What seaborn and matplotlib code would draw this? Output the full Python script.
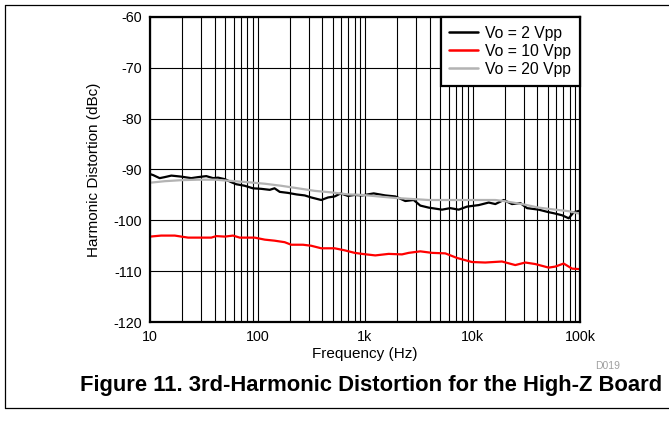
import numpy as np
import pandas as pd
import matplotlib
matplotlib.use("Agg")
import matplotlib.pyplot as plt
import matplotlib.ticker as mticker
from matplotlib.lines import Line2D
import seaborn as sns

# ---------------- data ----------------
freq_2vpp = [10, 10.7, 12.3, 13.7, 15.8, 19.5, 24.2, 28.0, 33.4, 38.6, 42.9, 49.6,
             57.1, 63.5, 76.0, 90.8, 108, 130, 144, 161, 192, 230, 275, 316, 392,
             453, 522, 594, 695, 802, 938, 1205, 1545, 1914, 2371, 2838, 3268,
             3915, 5204, 6215, 7442, 8892, 11430, 14160, 16310, 19500, 23290,
             27850, 32150, 41300, 51170, 56900, 68030, 78540, 87360, 100000]
hd_2vpp = [-90.9, -91.1, -91.7, -91.5, -91.2, -91.4, -91.7, -91.5, -91.3, -91.7,
           -91.6, -91.9, -92.5, -92.9, -93.2, -93.7, -93.8, -94.0, -93.7, -94.4,
           -94.6, -94.9, -95.1, -95.5, -96.0, -95.5, -95.3, -94.7, -95.2, -95.0,
           -95.1, -94.7, -95.1, -95.3, -96.2, -96.0, -97.1, -97.5, -97.9, -97.6,
           -97.9, -97.3, -97.0, -96.5, -96.8, -96.0, -96.8, -96.6, -97.6, -97.9,
           -98.4, -98.6, -99.0, -99.6, -98.4, -98.1]

freq_10vpp = [10, 12.7, 17.0, 22.6, 30.0, 37.2, 41.4, 49.6, 59.2, 68.3, 81.7, 94.2,
              117, 144, 179, 206, 265, 316, 392, 522, 647, 802, 938, 1247, 1660,
              2208, 2550, 3268, 4200, 5585, 7178, 9886, 13150, 18790, 25000, 30970,
              38380, 51170, 58900, 70470, 84330, 100000]
hd_10vpp = [-103.2, -103.0, -103.0, -103.4, -103.4, -103.4, -103.1, -103.2, -103.0,
            -103.4, -103.4, -103.4, -103.8, -104.0, -104.3, -104.8, -104.8, -105.0,
            -105.5, -105.5, -105.9, -106.4, -106.6, -106.9, -106.6, -106.7, -106.4,
            -106.1, -106.4, -106.5, -107.4, -108.2, -108.3, -108.1, -108.8, -108.3,
            -108.6, -109.3, -109.1, -108.5, -109.5, -109.6]

freq_20vpp = [10, 13.7, 19.5, 28.0, 40.0, 53.2, 81.7, 117, 166, 238, 340, 486, 695,
              938, 1914, 3915, 7980, 16310, 19500, 28840, 41300, 58900, 78540, 100000]
hd_20vpp = [-92.6, -92.3, -92.1, -92.0, -92.0, -92.2, -92.5, -92.8, -93.2, -93.7,
            -94.2, -94.5, -94.9, -95.0, -95.6, -96.0, -96.0, -96.0, -96.2, -96.8,
            -97.5, -97.9, -98.2, -98.7]

series_labels = ["Vo = 2 Vpp", "Vo = 10 Vpp", "Vo = 20 Vpp"]
series_colors = ["#000000", "#ff0000", "#b3b3b3"]

x_ticks = [10, 100, 1000, 10000, 100000]
x_tick_labels = ["10", "100", "1k", "10k", "100k"]
y_ticks = [-120, -110, -100, -90, -80, -70, -60]
y_tick_labels = ["-120", "-110", "-100", "-90", "-80", "-70", "-60"]

x_label = "Frequency (Hz)"
y_label = "Harmonic Distortion (dBc)"
fig_title = "Figure 11. 3rd-Harmonic Distortion for the High-Z Board"
fig_code = "D019"

# ---------------- long-format table ----------------
df = pd.concat([
    pd.DataFrame({"freq": freq_2vpp, "hd": hd_2vpp, "series": series_labels[0]}),
    pd.DataFrame({"freq": freq_10vpp, "hd": hd_10vpp, "series": series_labels[1]}),
    pd.DataFrame({"freq": freq_20vpp, "hd": hd_20vpp, "series": series_labels[2]}),
], ignore_index=True)

# ---------------- style ----------------
sns.set_style("white")
plt.rcParams["font.family"] = ["Liberation Sans", "DejaVu Sans"]
plt.rcParams["axes.unicode_minus"] = False
plt.rcParams["text.color"] = "black"
plt.rcParams["axes.labelcolor"] = "black"
plt.rcParams["xtick.color"] = "black"
plt.rcParams["ytick.color"] = "black"

W, H = 669, 423
fig = plt.figure(figsize=(W / 100, H / 100), dpi=100)
ax = fig.add_axes([150 / W, 1 - 322 / H, 430 / W, 305 / H])

sns.lineplot(data=df, x="freq", y="hd", hue="series", hue_order=series_labels,
             palette=dict(zip(series_labels, series_colors)), linewidth=1.6,
             sort=True, estimator=None, ax=ax, legend=False)

ax.set_xscale("log")
ax.set_xlim(10, 100000)
ax.set_ylim(-120, -60)
ax.xaxis.set_major_locator(mticker.FixedLocator(x_ticks))
ax.xaxis.set_major_formatter(mticker.FixedFormatter(x_tick_labels))
ax.xaxis.set_minor_locator(mticker.LogLocator(base=10, subs=np.arange(2, 10), numticks=20))
ax.xaxis.set_minor_formatter(mticker.NullFormatter())
ax.yaxis.set_major_locator(mticker.FixedLocator(y_ticks))
ax.yaxis.set_major_formatter(mticker.FixedFormatter(y_tick_labels))

ax.set_axisbelow(True)
ax.grid(which="major", axis="both", color="black", linewidth=0.8)
ax.grid(which="minor", axis="x", color="black", linewidth=0.8)
ax.tick_params(axis="both", which="both", length=0, labelsize=10.3,
               colors="black", labelcolor="black", pad=6)

for sp in ax.spines.values():
    sp.set_visible(True)
    sp.set_color("black")
    sp.set_linewidth(1.6)

ax.set_xlabel(x_label, fontsize=11, labelpad=2, color="black")
ax.set_ylabel(y_label, fontsize=11, labelpad=9, color="black")

handles = [Line2D([0], [0], color=c, linewidth=1.8) for c in series_colors]
leg = ax.legend(handles, series_labels, loc="upper right", borderaxespad=0,
                fontsize=11.3, frameon=True, fancybox=False, framealpha=1,
                edgecolor="black", handlelength=1.8, handletextpad=0.5,
                labelspacing=0.2, borderpad=0.55, labelcolor="black")
leg.get_frame().set_linewidth(1.6)

fig.text(608 / W, 1 - 366 / H, fig_code, fontsize=7.5, color="#a0a0a0",
         ha="center", va="center")
fig.text(371 / W, 1 - 385 / H, fig_title, fontsize=15.8, fontweight="bold",
         color="black", ha="center", va="center")

# frame lines around the figure block
fig.add_artist(Line2D([5 / W, 1], [1 - 5 / H, 1 - 5 / H], color="black", linewidth=0.9))
fig.add_artist(Line2D([5 / W, 5 / W], [1 - 5 / H, 1 - 408 / H], color="black", linewidth=0.9))
fig.add_artist(Line2D([5 / W, 1], [1 - 408 / H, 1 - 408 / H], color="black", linewidth=0.9))

fig.savefig("out.png", dpi=100)
